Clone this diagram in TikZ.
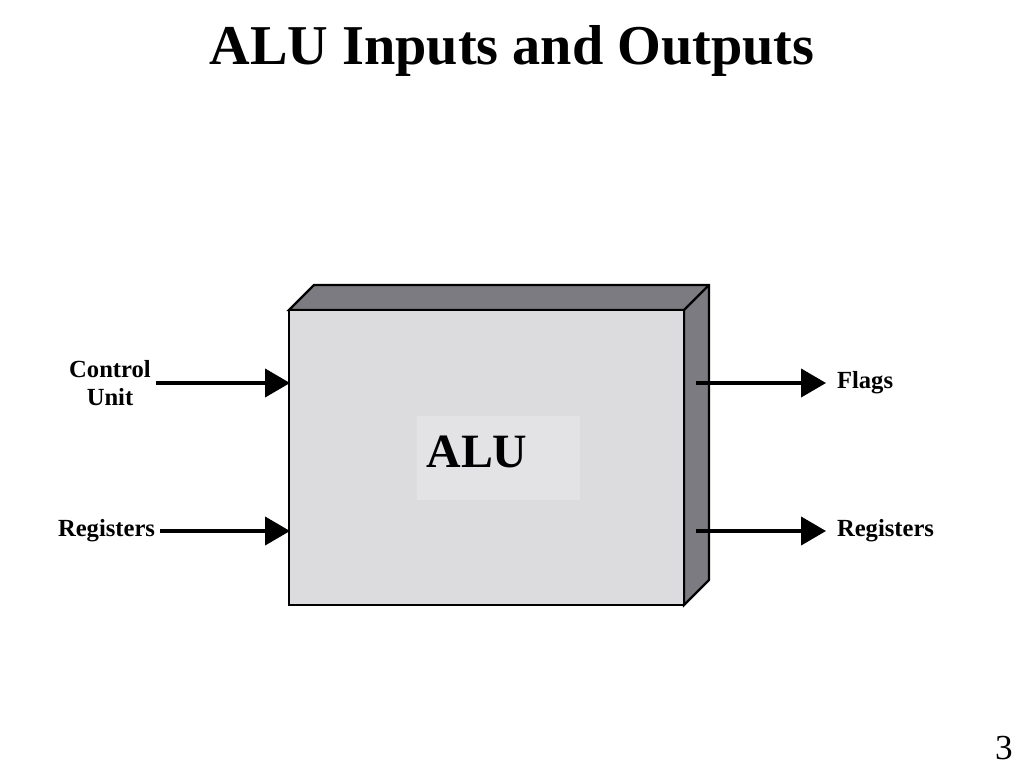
\documentclass[tikz,border=0pt]{standalone}
\usepackage{fontspec}
\setmainfont{Liberation Serif}
\usetikzlibrary{calc,positioning,arrows.meta}
\definecolor{facecol}{RGB}{220,219,222}
\definecolor{sidecol}{RGB}{123,123,129}
\definecolor{labcol}{RGB}{227,227,229}

\begin{document}
\begin{tikzpicture}[x=0.025cm, y=-0.025cm,
  lbl/.style={font=\fontsize{17.5}{20.5}\selectfont\bfseries},
  arr/.style={line width=2.4pt, -{Triangle[length=0.62cm,width=0.7cm]}}]
\useasboundingbox (0,0) rectangle (1024,768);
\def\dep{25};

\node[anchor=base] (title) at (512,65) {\fontsize{40}{48}\selectfont\bfseries ALU Inputs and Outputs};

% box, front face from fA to fB
\coordinate (fA) at (289,310);
\coordinate (fB) at (684,605);
\coordinate (fC) at (fB|-fA);
\draw[line width=1.6pt, fill=sidecol] (fA) -- ++(\dep,-\dep) -- ($ (fC) + (\dep,-\dep) $)
  -- ($ (fB) + (\dep,-\dep) $) -- (fB) -- (fC) -- cycle;
\draw[line width=1.6pt] (fC) -- ++(\dep,-\dep);
\draw[line width=1.6pt, fill=facecol] (fA) rectangle (fB);

\fill[labcol] (417,416) rectangle (580,500);
\node (alu) at (477,452) {\fontsize{34}{40}\selectfont\bfseries ALU};

% inputs
\node[lbl, align=center] (cu) at (110,383) {Control\\Unit};
\node[lbl, anchor=east] (regin) at (160,531) {Registers};
\coordinate (cuin) at (290,383);
\coordinate (regina) at (290,531);
\draw[arr] (cu) -- (cuin);
\draw[arr] (regin) -- (regina);

% outputs
\node[lbl, anchor=west, outer sep=4.5pt] (flags) at (826,383) {Flags};
\node[lbl, anchor=west, outer sep=4.5pt] (regout) at (826,531) {Registers};
\coordinate (flout) at (696,383);
\coordinate (regouta) at (696,531);
\draw[arr] (flout) -- (flags);
\draw[arr] (regouta) -- (regout);

\node[inner sep=0pt] (pg) at (1004,748) {\fontsize{25}{30}\selectfont 3};
\end{tikzpicture}
\end{document}
